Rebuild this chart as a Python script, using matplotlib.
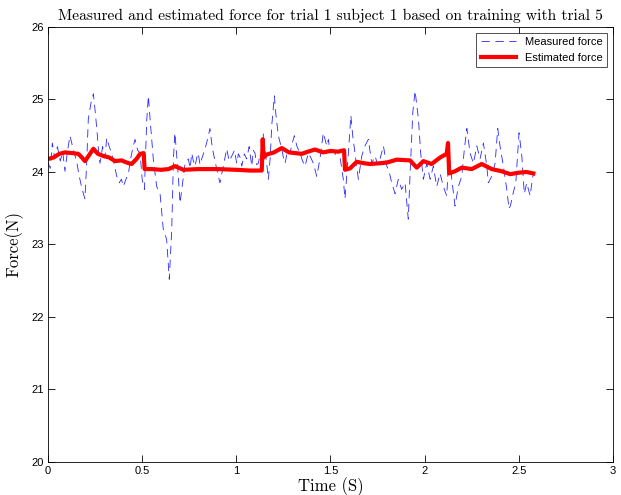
import matplotlib
matplotlib.use("Agg")
import matplotlib.pyplot as plt

# measured force (dashed blue)
t_meas = [0.0, 0.012, 0.023, 0.035, 0.05, 0.065, 0.078, 0.09, 0.104, 0.117, 0.135, 0.152,
          0.165, 0.178, 0.188, 0.196, 0.205, 0.214, 0.228, 0.241, 0.25, 0.259, 0.268, 0.276,
          0.29, 0.302, 0.312, 0.325, 0.338, 0.352, 0.365, 0.378, 0.39, 0.4, 0.414, 0.427,
          0.44, 0.452, 0.462, 0.476, 0.489, 0.5, 0.512, 0.524, 0.533, 0.542, 0.559, 0.577,
          0.595, 0.612, 0.63, 0.644, 0.657, 0.666, 0.674, 0.692, 0.701, 0.715, 0.728, 0.745,
          0.755, 0.763, 0.772, 0.781, 0.79, 0.798, 0.807, 0.816, 0.825, 0.834, 0.847, 0.86,
          0.869, 0.878, 0.887, 0.896, 0.913, 0.931, 0.94, 0.949, 0.962, 0.976, 0.99, 1.002,
          1.011, 1.02, 1.029, 1.042, 1.055, 1.068, 1.082, 1.09, 1.099, 1.108, 1.117, 1.126,
          1.135, 1.144, 1.152, 1.161, 1.17, 1.18, 1.188, 1.195, 1.202, 1.209, 1.223, 1.241,
          1.25, 1.259, 1.272, 1.285, 1.297, 1.308, 1.321, 1.338, 1.352, 1.365, 1.382, 1.395,
          1.409, 1.427, 1.444, 1.462, 1.48, 1.489, 1.498, 1.51, 1.521, 1.533, 1.551, 1.568,
          1.577, 1.595, 1.608, 1.618, 1.63, 1.648, 1.666, 1.683, 1.701, 1.719, 1.737, 1.75,
          1.763, 1.781, 1.799, 1.812, 1.825, 1.843, 1.86, 1.878, 1.896, 1.913, 1.922, 1.937,
          1.949, 1.967, 1.979, 1.993, 2.011, 2.029, 2.046, 2.064, 2.082, 2.099, 2.117, 2.13,
          2.144, 2.161, 2.179, 2.197, 2.211, 2.224, 2.241, 2.259, 2.277, 2.294, 2.312, 2.33,
          2.338, 2.356, 2.374, 2.388, 2.4, 2.418, 2.436, 2.448, 2.457, 2.466, 2.484, 2.501,
          2.516, 2.529, 2.542, 2.56, 2.572, 2.577]
f_meas = [24.13, 24.05, 24.4, 24.2, 24.35, 24.15, 24.28, 24.01, 24.3, 24.5, 24.3, 24.15,
          23.95, 23.8, 23.7, 23.63, 24.1, 24.73, 24.95, 25.08, 24.85, 24.6, 24.3, 24.12,
          24.35, 24.2, 24.47, 24.35, 24.26, 24.1, 23.94, 23.85, 23.9, 23.8, 23.9, 23.98,
          24.2, 24.35, 24.45, 24.3, 24.26, 23.9, 23.76, 24.7, 25.05, 24.73, 24.18, 23.8,
          23.7, 23.21, 23.07, 22.52, 23.21, 24.18, 24.54, 23.94, 23.57, 23.85, 24.12, 24.18,
          24.05, 24.26, 24.15, 24.08, 24.2, 24.26, 24.1, 24.18, 24.25, 24.32, 24.45, 24.6,
          24.4, 24.26, 24.15, 24.04, 23.85, 24.08, 24.2, 24.32, 24.15, 24.22, 24.3, 24.12,
          24.25, 24.2, 24.08, 24.25, 24.18, 24.35, 24.08, 24.3, 24.26, 24.1, 24.12, 24.25,
          24.04, 24.54, 24.3, 24.12, 23.9, 24.2, 24.64, 24.85, 25.05, 24.82, 24.5, 24.32,
          24.2, 24.12, 24.3, 24.26, 24.4, 24.5, 24.36, 24.26, 24.15, 24.08, 24.26, 24.2,
          24.12, 23.94, 24.18, 24.54, 24.36, 24.45, 24.26, 24.3, 24.22, 24.3, 24.2, 23.9,
          23.63, 24.26, 24.78, 24.5, 24.26, 23.9, 24.22, 24.36, 24.45, 24.12, 24.22, 24.1,
          24.18, 24.36, 24.08, 24.0, 23.85, 23.7, 23.9, 23.76, 23.85, 23.35, 23.94, 24.82,
          25.12, 24.73, 24.26, 23.9, 24.12, 23.9, 24.08, 23.8, 23.98, 23.8, 23.67, 24.26,
          23.9, 23.53, 23.8, 23.94, 24.32, 24.6, 24.26, 24.12, 24.36, 24.18, 24.4, 24.08,
          23.85, 23.94, 24.12, 24.6, 24.36, 24.08, 23.76, 23.49, 23.55, 23.67, 23.85, 24.54,
          24.22, 23.7, 23.85, 23.67, 23.9, 23.98]

# estimated force (thick red)
t_est = [0.0, 0.03, 0.06, 0.09, 0.13, 0.161, 0.18, 0.196, 0.215, 0.241, 0.265, 0.294,
         0.325, 0.356, 0.39, 0.418, 0.444, 0.47, 0.489, 0.508, 0.513, 0.55, 0.6, 0.64,
         0.674, 0.719, 0.8, 0.9, 1.0, 1.07, 1.135, 1.14, 1.145, 1.16, 1.2, 1.241, 1.28,
         1.347, 1.38, 1.418, 1.46, 1.5, 1.54, 1.572, 1.577, 1.604, 1.639, 1.68, 1.71,
         1.76, 1.799, 1.852, 1.922, 1.958, 1.993, 2.037, 2.082, 2.117, 2.124, 2.13, 2.161,
         2.197, 2.25, 2.303, 2.356, 2.409, 2.454, 2.498, 2.54, 2.577]
f_est = [24.18, 24.2, 24.25, 24.27, 24.26, 24.25, 24.2, 24.15, 24.22, 24.32, 24.25, 24.22,
         24.2, 24.15, 24.16, 24.13, 24.11, 24.18, 24.25, 24.26, 24.04, 24.04, 24.03, 24.04,
         24.08, 24.03, 24.04, 24.04, 24.03, 24.02, 24.02, 24.45, 24.2, 24.24, 24.27, 24.33,
         24.27, 24.25, 24.28, 24.31, 24.27, 24.29, 24.28, 24.3, 24.03, 24.05, 24.14, 24.12,
         24.11, 24.12, 24.13, 24.17, 24.16, 24.06, 24.15, 24.11, 24.2, 24.25, 24.4, 23.98,
         24.01, 24.06, 24.04, 24.11, 24.04, 24.01, 23.97, 23.99, 24.0, 23.98]

plt.rcParams['lines.scale_dashes'] = False
plt.rcParams['font.family'] = ['Liberation Sans', 'DejaVu Sans']

fig = plt.figure(figsize=(6.21, 4.95), dpi=100)
ax = fig.add_axes([0.0773, 0.0667, 0.9098, 0.8788])

ax.plot(t_meas, f_meas, color='b', lw=0.6, dashes=(6, 4), alpha=0.85, label='Measured force')
ax.plot(t_est, f_est, color='r', lw=3.0, label='Estimated force')

ax.set_xlim(0, 3)
ax.set_ylim(20, 26)
ax.set_xticks([0, 0.5, 1, 1.5, 2, 2.5, 3])
ax.set_xticklabels(['0', '0.5', '1', '1.5', '2', '2.5', '3'])
ax.set_yticks([20, 21, 22, 23, 24, 25, 26])
ax.tick_params(direction='in', top=True, right=True, labelsize=8, length=5, width=0.6, pad=3)
for s in ax.spines.values():
    s.set_linewidth(0.6)

ax.set_title('Measured and estimated force for trial 1 subject 1 based on training with trial 5',
             fontfamily='cmr10', fontsize=11.2, pad=5)
ax.set_xlabel('Time (S)', fontfamily='cmr10', fontsize=12, labelpad=1)
ax.set_ylabel('Force(N)', fontfamily='cmr10', fontsize=12, labelpad=6)

leg = ax.legend(loc='upper right', fontsize=8, frameon=True, fancybox=False,
                edgecolor='black', handlelength=3.2, borderaxespad=0.5, borderpad=0.4)
leg.get_frame().set_linewidth(0.6)

fig.savefig('out.png', dpi=100)
